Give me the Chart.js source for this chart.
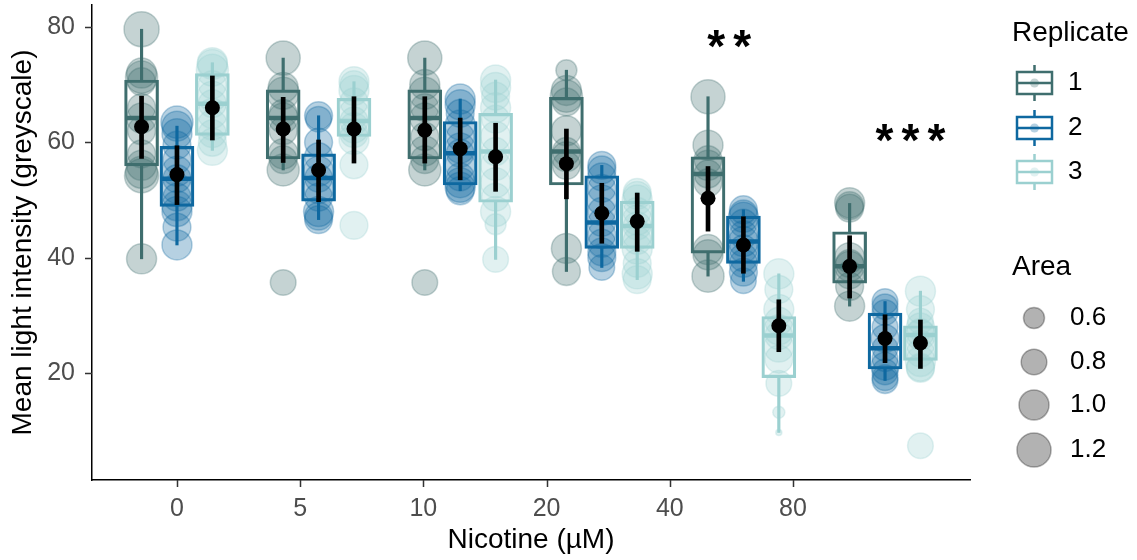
<!DOCTYPE html>
<html>
<head>
<meta charset="utf-8">
<title>Mean light intensity vs nicotine</title>
<script src="https://cdn.jsdelivr.net/npm/chart.js@4/dist/chart.umd.min.js"></script>
<style>
  html, body { margin: 0; padding: 0; background: #fff; }
  #wrap { width: 1137px; height: 560px; }
</style>
</head>
<body>
<div id="wrap"><canvas id="chart" width="1137" height="560"></canvas></div>
<script>
// Categories and tick labels
const groupLabels = ['0', '5', '10', '20', '40', '80'];
const replicates = ['1', '2', '3'];
const xTickValues = [1, 1.87, 2.74, 3.61, 4.48, 5.35];
const yTickValues = [20, 40, 60, 80];
const areaLegend = [0.6, 0.8, 1.0, 1.2];

// Box stats, [replicate][nicotine group]
const q1 = [
    [55.9, 57.1, 57.1, 52.6, 40.8, 35.6],
    [48.9, 49.8, 52.6, 41.6, 39.0, 20.7],
    [61.2, 61.0, 49.6, 41.6, 19.2, 22.2]
];
const median = [
    [64.2, 64.2, 64.2, 58.4, 54.5, 38.5],
    [53.7, 53.8, 58.1, 46.1, 42.8, 24.3],
    [66.7, 63.7, 58.4, 45.5, 26.5, 26.6]
];
const q3 = [
    [70.8, 69.1, 69.1, 67.8, 57.5, 44.5],
    [59.3, 58.0, 63.6, 54.2, 47.2, 30.4],
    [71.9, 67.6, 65.0, 49.8, 29.8, 28.2]
];
const whiskerLow = [
    [39.8, 55.2, 55.2, 37.6, 36.8, 31.6],
    [42.2, 46.6, 51.6, 38.3, 35.9, 18.7],
    [58.6, 60.5, 39.7, 36.2, 9.7, 20.8]
];
const whiskerHigh = [
    [79.6, 74.6, 74.6, 72.5, 67.9, 49.4],
    [62.8, 64.6, 67.5, 56.0, 48.3, 32.4],
    [73.8, 70.5, 70.8, 51.3, 37.2, 34.2]
];

// Mean and error bar
const means = [
    [62.7, 62.3, 62.1, 56.3, 50.3, 38.5],
    [54.4, 55.2, 58.9, 47.7, 42.2, 26.0],
    [66.0, 62.3, 57.5, 46.3, 28.2, 25.2]
];
const errLow = [
    [57.2, 56.5, 56.4, 50.2, 44.6, 33.0],
    [49.2, 49.7, 53.5, 42.5, 37.3, 21.8],
    [60.4, 56.4, 51.5, 41.1, 23.7, 20.8]
];
const errHigh = [
    [68.0, 67.8, 67.9, 62.3, 55.8, 43.8],
    [59.4, 60.4, 64.2, 52.9, 47.1, 30.1],
    [71.5, 67.9, 63.3, 51.2, 32.7, 29.2]
];

// Individual measurements and their areas, [replicate][group][i]
const pointValues = [
    [
        [79.6, 72, 71.3, 70.5, 66, 64.2, 62, 58, 56, 54.8, 54.2, 39.8],
        [74.6, 69.5, 68.5, 65, 64.2, 62, 58, 57, 55.2, 35.7],
        [74.6, 70, 68.5, 66, 64.2, 61, 58.5, 57, 55.2, 35.7],
        [72.5, 69, 68, 67, 62, 58.4, 57.5, 56, 41.6, 37.6],
        [67.9, 59.5, 57, 56, 54.5, 53, 41.4, 40.5, 36.8],
        [49.5, 49, 48.6, 40, 39, 38.5, 37, 35, 31.6]
    ],
    [
        [63.5, 62.8, 61.5, 59.5, 57, 55, 53.7, 52, 50.5, 49, 48, 45.3, 42.2],
        [64.6, 64, 60, 57.5, 55, 53.8, 52, 50.5, 48, 47.2, 46.6],
        [67.5, 66.5, 65, 63, 61, 59, 58.1, 56, 54, 53, 52.2, 51.6],
        [56, 55.2, 54, 52, 50, 48, 46.1, 44, 42.5, 41, 40, 38.3],
        [48.3, 47.6, 47, 46, 44, 42.8, 41.5, 40, 39, 37.5, 36],
        [32.4, 31.5, 30.5, 28, 26, 24.3, 22.5, 21.2, 20.2, 19.2, 18.7]
    ],
    [
        [73.8, 73.5, 72.5, 70, 68, 66.7, 65, 63, 61.5, 60, 58.6],
        [70.5, 70, 69, 67, 65, 63.7, 62.5, 61.5, 60.5, 56.1, 45.6],
        [70.8, 69.5, 68, 66, 64, 61, 58.4, 56, 53, 50.5, 48, 45.8, 39.7],
        [51.3, 50.8, 50, 48, 46.5, 45.5, 44, 43, 41.5, 39, 37.2, 36.2],
        [37.2, 34.5, 31, 29, 27.5, 26.5, 24.5, 22.4, 18.2, 13.2, 9.7],
        [34.2, 31, 29, 28, 27, 26.6, 25, 23.5, 22, 21, 20.8, 7.4]
    ]
];
const pointAreas = [
    [
        [1.25, 1.0, 1.1, 0.9, 0.9, 1.0, 0.9, 0.9, 1.0, 1.1, 1.2, 1.0],
        [1.2, 1.0, 1.1, 0.9, 1.0, 0.9, 1.0, 0.9, 1.1, 0.8],
        [1.2, 1.0, 1.1, 0.9, 1.0, 0.9, 1.0, 0.9, 1.1, 0.8],
        [0.6, 1.0, 1.1, 0.9, 1.0, 0.9, 1.0, 0.9, 1.0, 0.9],
        [1.2, 1.0, 0.9, 1.0, 0.9, 0.9, 1.0, 1.0, 1.1],
        [1.0, 0.9, 0.9, 1.0, 0.9, 1.0, 0.9, 0.9, 1.0]
    ],
    [
        [1.1, 1.0, 1.0, 0.9, 0.9, 1.0, 0.9, 1.0, 0.9, 1.0, 1.0, 0.9, 1.0],
        [0.9, 0.8, 0.9, 0.9, 1.0, 0.9, 1.0, 0.9, 1.0, 0.9, 0.9],
        [1.0, 1.0, 0.9, 1.0, 0.9, 1.0, 0.9, 1.0, 0.9, 1.0, 1.0, 0.9],
        [0.9, 0.9, 0.9, 0.9, 1.0, 0.9, 0.9, 0.9, 0.9, 0.9, 0.9, 0.8],
        [0.9, 0.9, 1.0, 0.9, 0.9, 1.0, 0.9, 0.9, 0.9, 0.9, 0.8],
        [0.8, 0.8, 0.8, 0.8, 0.9, 0.8, 0.8, 0.9, 0.8, 0.8, 0.8]
    ],
    [
        [1.0, 1.0, 1.1, 0.9, 1.0, 0.9, 1.0, 1.0, 0.9, 0.9, 1.0],
        [1.0, 0.9, 1.0, 0.9, 1.0, 0.9, 1.0, 0.9, 1.0, 0.9, 0.9],
        [1.0, 1.0, 0.9, 1.0, 0.9, 1.0, 0.9, 1.0, 1.0, 0.9, 1.0, 0.6, 0.8],
        [0.9, 0.9, 1.0, 0.9, 1.0, 0.9, 1.0, 0.9, 1.0, 0.9, 1.0, 0.9],
        [1.0, 0.9, 1.0, 0.9, 1.0, 0.9, 1.0, 0.9, 0.8, 0.27, 0.1],
        [1.0, 0.9, 0.8, 0.9, 0.9, 1.0, 0.9, 0.9, 1.0, 0.9, 0.9, 0.8]
    ]
];

// Significance labels
const sigLabels = ['**', '***'];
const sigX = [4.9, 6.18];
const sigY = [77.8, 61.5];

// Styles
const repColors = ['rgb(63,110,110)', 'rgb(14,104,160)', 'rgb(155,208,208)'];
const repFills = ['rgba(63,110,110,0.3)', 'rgba(14,104,160,0.3)', 'rgba(155,208,208,0.3)'];
const dodge = [-0.25, 0, 0.25];
const FONT = "'Liberation Sans', Arial, sans-serif";
const TICK_LEN = 7;

function radiusFor(area) {
    return 15 * Math.pow(area, 0.7);
}

function xPos(r, g) {
    return g + 1 + dodge[r];
}

// Build datasets
const datasets = [];
replicates.forEach(function(name, r) {
    // raw points
    const pts = [];
    pointValues[r].forEach(function(vals, g) {
        vals.forEach(function(v, i) {
            pts.push({ x: xPos(r, g), y: v, r: radiusFor(pointAreas[r][g][i]) });
        });
    });
    datasets.push({
        type: 'bubble',
        data: pts,
        backgroundColor: repFills[r],
        borderColor: repFills[r],
        borderWidth: 1.5,
        order: 20 - r
    });

    // whiskers (below and above the box)
    datasets.push({
        type: 'bar',
        data: groupLabels.map((_, g) => ({ x: xPos(r, g), y: [whiskerLow[r][g], q1[r][g]] })),
        backgroundColor: repColors[r],
        borderWidth: 0,
        barThickness: 2.5,
        grouped: false,
        order: 10
    });
    datasets.push({
        type: 'bar',
        data: groupLabels.map((_, g) => ({ x: xPos(r, g), y: [q3[r][g], whiskerHigh[r][g]] })),
        backgroundColor: repColors[r],
        borderWidth: 0,
        barThickness: 2.5,
        grouped: false,
        order: 10
    });

    // box
    datasets.push({
        type: 'bar',
        data: groupLabels.map((_, g) => ({ x: xPos(r, g), y: [q1[r][g], q3[r][g]] })),
        backgroundColor: 'rgba(255,255,255,0)',
        borderColor: repColors[r],
        borderWidth: 2.5,
        borderSkipped: false,
        barThickness: 34,
        grouped: false,
        order: 9
    });

    // median
    datasets.push({
        type: 'scatter',
        data: groupLabels.map((_, g) => ({ x: xPos(r, g), y: median[r][g] })),
        pointStyle: 'line',
        pointRadius: 16,
        pointBorderWidth: 4.5,
        pointBorderColor: repColors[r],
        order: 8
    });

    // error bar
    datasets.push({
        type: 'bar',
        data: groupLabels.map((_, g) => ({ x: xPos(r, g), y: [errLow[r][g], errHigh[r][g]] })),
        backgroundColor: '#000',
        borderWidth: 0,
        barThickness: 4,
        grouped: false,
        order: 2
    });

    // mean
    datasets.push({
        type: 'scatter',
        data: groupLabels.map((_, g) => ({ x: xPos(r, g), y: means[r][g] })),
        pointRadius: 7.5,
        pointBackgroundColor: '#000',
        pointBorderWidth: 0,
        order: 1
    });
});

// Tick marks, significance stars and legend
const extrasPlugin = {
    id: 'extras',
    afterDraw(chart) {
        const ctx = chart.ctx;
        const xs = chart.scales.x, ys = chart.scales.y;
        const area = chart.chartArea;
        ctx.save();

        // axis tick marks
        ctx.strokeStyle = '#333';
        ctx.lineWidth = 1.5;
        ctx.beginPath();
        xs.ticks.forEach(function(t) {
            const px = Math.round(xs.getPixelForValue(t.value)) + 0.5;
            ctx.moveTo(px, area.bottom);
            ctx.lineTo(px, area.bottom + TICK_LEN);
        });
        ys.ticks.forEach(function(t) {
            const py = Math.round(ys.getPixelForValue(t.value)) + 0.5;
            ctx.moveTo(area.left, py);
            ctx.lineTo(area.left - TICK_LEN, py);
        });
        ctx.stroke();

        // significance stars
        ctx.fillStyle = '#000';
        ctx.font = 'bold 46px ' + FONT;
        ctx.textAlign = 'center';
        ctx.textBaseline = 'alphabetic';
        sigLabels.forEach(function(lab, i) {
            const cx = xs.getPixelForValue(sigX[i]);
            const cy = ys.getPixelForValue(sigY[i]);
            const n = lab.length, step = 26;
            for (let k = 0; k < n; k++) {
                ctx.fillText('*', cx + (k - (n - 1) / 2) * step, cy + 22);
            }
        });

        // Legend: Replicate
        ctx.textAlign = 'left';
        ctx.textBaseline = 'middle';
        ctx.font = '28px ' + FONT;
        ctx.fillText('Replicate', 1012, 33);
        ctx.font = '26px ' + FONT;
        const keyYs = [83, 128, 172];
        replicates.forEach(function(name, r) {
            const y = keyYs[r], x0 = 1017, x1 = 1052, cx = (x0 + x1) / 2;
            ctx.strokeStyle = repColors[r];
            ctx.lineWidth = 2.5;
            ctx.beginPath();
            ctx.moveTo(cx, y - 18); ctx.lineTo(cx, y - 11);
            ctx.moveTo(cx, y + 11); ctx.lineTo(cx, y + 18);
            ctx.stroke();
            ctx.strokeRect(x0, y - 11, x1 - x0, 22);
            ctx.beginPath();
            ctx.moveTo(x0, y); ctx.lineTo(x1, y);
            ctx.stroke();
            ctx.fillStyle = repFills[r];
            ctx.beginPath();
            ctx.arc(cx, y, 4.5, 0, Math.PI * 2);
            ctx.fill();
            ctx.fillStyle = '#000';
            ctx.fillText(name, 1068, y);
        });

        // Legend: Area
        ctx.font = '28px ' + FONT;
        ctx.fillText('Area', 1012, 267);
        ctx.font = '26px ' + FONT;
        const areaYs = [318, 362, 405, 450];
        areaLegend.forEach(function(a, i) {
            ctx.fillStyle = 'rgba(0,0,0,0.3)';
            ctx.strokeStyle = 'rgba(0,0,0,0.3)';
            ctx.lineWidth = 1.5;
            ctx.beginPath();
            ctx.arc(1034, areaYs[i], radiusFor(a), 0, Math.PI * 2);
            ctx.fill();
            ctx.stroke();
            ctx.fillStyle = '#000';
            ctx.fillText(a.toFixed(1), 1070, areaYs[i]);
        });
        ctx.restore();
    }
};

new Chart(document.getElementById('chart'), {
    type: 'scatter',
    data: { datasets: datasets },
    options: {
        responsive: false,
        animation: false,
        events: [],
        devicePixelRatio: 1,
        layout: { autoPadding: false, padding: { left: 0, top: 5, right: 167, bottom: 0 } },
        plugins: {
            legend: { display: false },
            tooltip: { enabled: false }
        },
        scales: {
            x: {
                type: 'linear',
                min: 0.4,
                max: 6.6,
                offset: false,
                grid: { display: false, drawTicks: false },
                border: { display: true, color: '#000', width: 1.5 },
                afterBuildTicks(scale) {
                    scale.ticks = xTickValues.map(v => ({ value: v }));
                },
                afterFit(scale) {
                    scale.height = 80;
                    scale.paddingLeft = 0;
                    scale.paddingRight = 0;
                },
                ticks: {
                    autoSkip: false,
                    maxRotation: 0,
                    padding: 14,
                    color: '#4D4D4D',
                    font: { family: FONT, size: 25 },
                    callback: function(value, index) { return groupLabels[index]; }
                },
                title: {
                    display: true,
                    text: 'Nicotine (µM)',
                    color: '#000',
                    font: { family: FONT, size: 28 },
                    padding: { top: 0, bottom: 3 }
                }
            },
            y: {
                type: 'linear',
                min: 1.46,
                max: 83.8,
                grid: { display: false, drawTicks: false },
                border: { display: true, color: '#000', width: 1.5 },
                afterBuildTicks(scale) {
                    scale.ticks = yTickValues.map(v => ({ value: v }));
                },
                afterFit(scale) {
                    scale.width = 92;
                    scale.paddingTop = 0;
                    scale.paddingBottom = 0;
                },
                ticks: {
                    padding: 17,
                    color: '#4D4D4D',
                    font: { family: FONT, size: 25 },
                    callback: function(value) { return String(value); }
                },
                title: {
                    display: true,
                    text: 'Mean light intensity (greyscale)',
                    color: '#000',
                    font: { family: FONT, size: 28 },
                    padding: { top: 6, bottom: 0 }
                }
            }
        }
    },
    plugins: [extrasPlugin]
});
</script>
</body>
</html>
